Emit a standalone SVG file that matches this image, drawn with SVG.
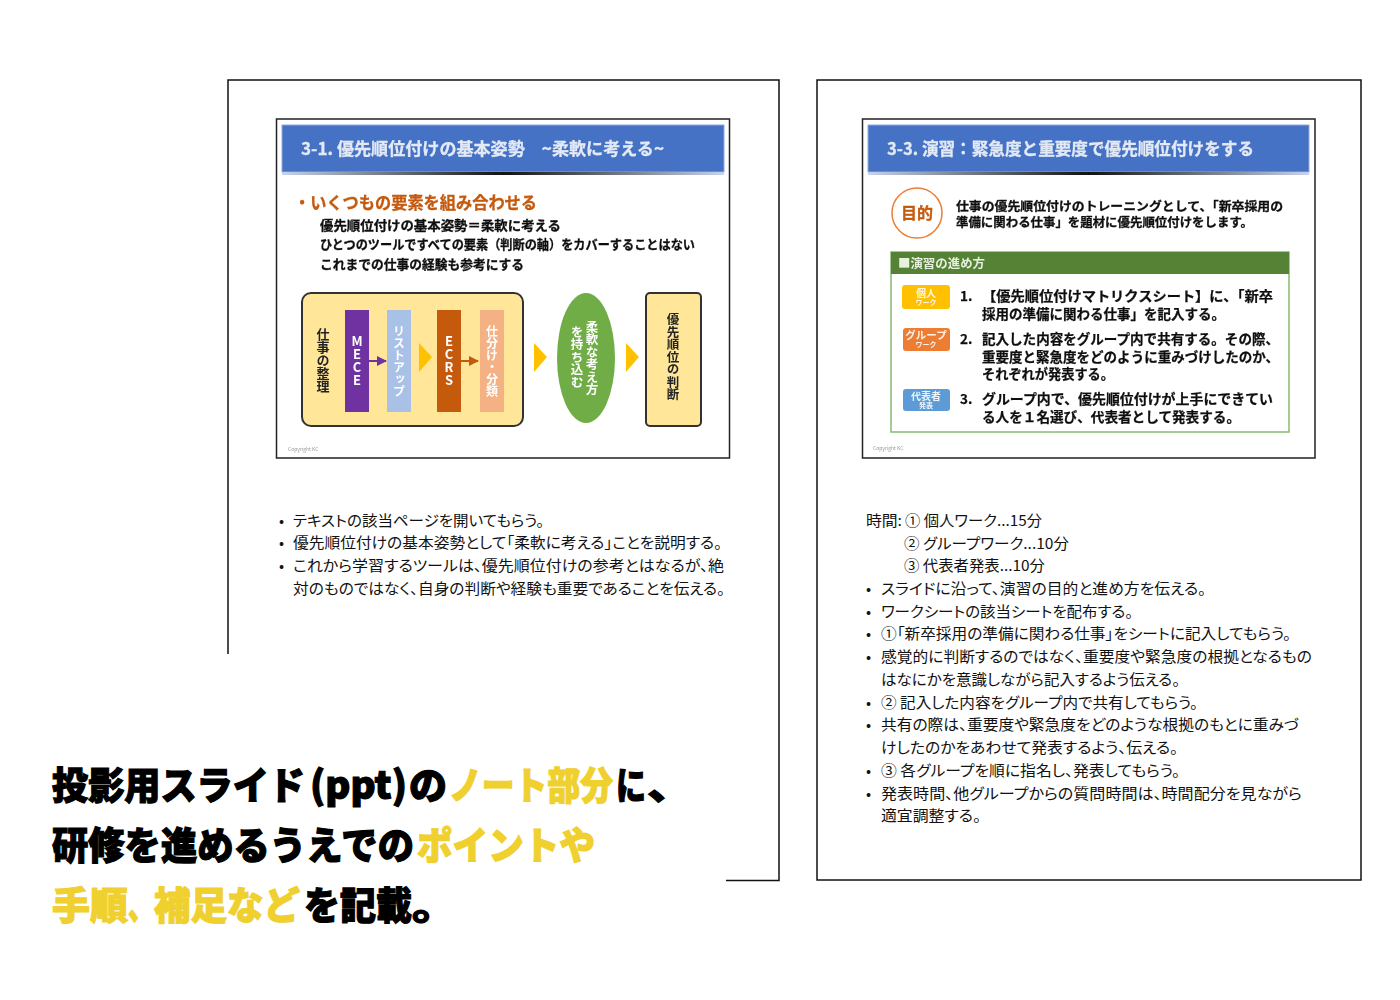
<svg xmlns="http://www.w3.org/2000/svg" width="1400" height="1000" viewBox="0 0 1400 1000">
<style>
text{font-family:"Noto Sans CJK JP","Liberation Sans",sans-serif;dominant-baseline:central}
.page{fill:none;stroke:#111;stroke-width:1.5}
.frame{fill:#fff;stroke:#222;stroke-width:1.5}
.hdr{fill:#4472c4;stroke:#8faadc;stroke-width:1}
.ttl{font-size:17px;font-weight:700;fill:#e3e9f5;stroke:#e3e9f5;stroke-width:.3}
.b{font-size:13px;font-weight:700;fill:#111;stroke:#111;stroke-width:.3}
.c{font-size:13.5px;font-weight:700;fill:#111;stroke:#111;stroke-width:.25}
.n{font-size:15px;fill:#111;font-feature-settings:"palt"}
.tiny{font-size:5px;fill:#999}
.box{fill:#ffe699;stroke:#333;stroke-width:2}
.v{writing-mode:vertical-rl;font-size:13px;font-weight:700;text-anchor:middle}
.u{text-orientation:upright}
.tri{fill:#ffc000}
.h{font-size:38px;font-weight:900;fill:#000;stroke:#000;stroke-width:1.2}
.y{fill:#efd02f;stroke:#efd02f}
.bt{font-weight:700;fill:#fff;text-anchor:middle;opacity:.9}
</style>
<defs>
<linearGradient id="g"><stop offset="0" stop-color="#c5d3ec"/><stop offset=".5" stop-color="#111"/><stop offset="1" stop-color="#c5d3ec"/></linearGradient>
<filter id="s" x="-2%" y="-2%" width="104%" height="104%"><feGaussianBlur stdDeviation="0.45"/></filter>
<marker id="ap" markerWidth="6" markerHeight="6" refX="4.5" refY="2.5" orient="auto"><path d="M0 0L5 2.5L0 5z" fill="#7030a0"/></marker>
<marker id="ao" markerWidth="6" markerHeight="6" refX="4.5" refY="2.5" orient="auto"><path d="M0 0L5 2.5L0 5z" fill="#c55a11"/></marker>
</defs>
<rect width="1400" height="1000" fill="#fff"/>

<path id="page-left" class="page" d="M228 654V80H779V880.5H726"/>
<rect id="page-right" class="page" x="817" y="80" width="544" height="800"/>

<g id="slide-left" filter="url(#s)">
<rect class="frame" x="276.5" y="119" width="453" height="339"/>
<rect class="hdr" x="282" y="125" width="442" height="47"/>
<rect x="282" y="172" width="442" height="3" fill="url(#g)"/>
<text class="ttl" x="301" y="147.5" textLength="363" lengthAdjust="spacingAndGlyphs">3-1. 優先順位付けの基本姿勢　~柔軟に考える~</text>
<text x="294" y="201.5" font-size="17" font-weight="700" fill="#c55a11" stroke="#c55a11" stroke-width=".3" textLength="243" lengthAdjust="spacingAndGlyphs">・いくつもの要素を組み合わせる</text>
<text class="b" x="320" y="224.5" textLength="241" lengthAdjust="spacingAndGlyphs">優先順位付けの基本姿勢＝柔軟に考える</text>
<text class="b" x="320" y="243.5" textLength="375" lengthAdjust="spacingAndGlyphs">ひとつのツールですべての要素（判断の軸）をカバーすることはない</text>
<text class="b" x="320" y="263.5" textLength="204" lengthAdjust="spacingAndGlyphs">これまでの仕事の経験も参考にする</text>
<g id="flow-left">
<rect class="box" x="302" y="293" width="221" height="133" rx="9"/>
<text class="v" x="323" y="360" fill="#222">仕事の整理</text>
<rect x="345" y="310" width="24" height="102" fill="#7030a0"/>
<text class="v u" x="357" y="361" fill="#fff">MECE</text>
<rect x="387" y="310" width="24" height="102" fill="#a9c1e6"/>
<text class="v" x="399" y="361" fill="#fff" style="font-size:12px">リストアップ</text>
<rect x="437" y="310" width="24" height="102" fill="#c55a11"/>
<text class="v u" x="449" y="361" fill="#fff">ECRS</text>
<rect x="480" y="310" width="24" height="102" fill="#f4b183"/>
<text class="v" x="492" y="361" fill="#fff" style="font-size:12px">仕分け・分類</text>
<path d="M369 361H386" stroke="#7030a0" stroke-width="2" marker-end="url(#ap)"/>
<path d="M461 361H478" stroke="#c55a11" stroke-width="2" marker-end="url(#ao)"/>
<path class="tri" d="M419 343L432 357L419 372z"/>
<path class="tri" d="M534 343L547 357L534 372z"/>
<path class="tri" d="M626 343L639 357L626 372z"/>
<ellipse cx="586" cy="358" rx="29" ry="65" fill="#70ad47"/>
<text class="v" x="592" y="358" fill="#fff" style="font-size:12.5px">柔軟な考え方</text>
<text class="v" x="577" y="357" fill="#fff" style="font-size:12.5px">を持ち込む</text>
<rect class="box" x="646" y="293" width="55" height="133" rx="4"/>
<text class="v" x="673" y="357" fill="#222" style="font-size:12.5px">優先順位の判断</text>
</g>
<text class="tiny" x="288" y="448">Copyright  KC</text>
</g>

<g id="slide-right" filter="url(#s)">
<rect class="frame" x="862.5" y="119" width="452.5" height="339"/>
<rect class="hdr" x="868" y="125" width="441" height="47"/>
<rect x="868" y="172" width="441" height="3" fill="url(#g)"/>
<text class="ttl" x="887" y="147.5" textLength="367" lengthAdjust="spacingAndGlyphs">3-3. 演習：緊急度と重要度で優先順位付けをする</text>
<circle cx="917" cy="213" r="25" fill="#fff" stroke="#ed7d31" stroke-width="1.5"/>
<text x="917" y="212" font-size="16" font-weight="700" fill="#c55a11" stroke="#c55a11" stroke-width=".3" text-anchor="middle">目的</text>
<text class="b" style="font-size:12px" x="956" y="205.5" textLength="327" lengthAdjust="spacingAndGlyphs">仕事の優先順位付けのトレーニングとして、「新卒採用の</text>
<text class="b" style="font-size:12px" x="956" y="221.5" textLength="297" lengthAdjust="spacingAndGlyphs">準備に関わる仕事」を題材に優先順位付けをします。</text>
<rect x="891" y="252" width="398" height="180" fill="#fff" stroke="#8bb871" stroke-width="1.5"/>
<rect x="891" y="252" width="398" height="22" fill="#548235"/>
<text x="898" y="262" font-size="12" font-weight="700" fill="#e8f0e0" textLength="87" lengthAdjust="spacingAndGlyphs">■演習の進め方</text>
<rect x="902" y="285" width="48" height="24" rx="3" fill="#ffc000"/>
<text class="bt" style="font-size:10px" x="926" y="292">個人</text><text class="bt" style="font-size:7px" x="926" y="302">ワーク</text>
<rect x="903" y="328" width="47" height="23" rx="3" fill="#ed7d31"/>
<text class="bt" style="font-size:10.5px" x="926" y="334">グループ</text><text class="bt" style="font-size:7px" x="926" y="344">ワーク</text>
<rect x="903" y="389" width="47" height="22" rx="3" fill="#5b9bd5"/>
<text class="bt" style="font-size:10px" x="926" y="395">代表者</text><text class="bt" style="font-size:7px" x="926" y="405">発表</text>
<text class="c" x="960" y="294.5">1.</text>
<text class="c" x="982" y="294.5" textLength="291" lengthAdjust="spacingAndGlyphs">【優先順位付けマトリクスシート】に、「新卒</text>
<text class="c" x="982" y="312.5" textLength="243" lengthAdjust="spacingAndGlyphs">採用の準備に関わる仕事」を記入する。</text>
<text class="c" x="960" y="337.5">2.</text>
<text class="c" x="982" y="337.5" textLength="297" lengthAdjust="spacingAndGlyphs">記入した内容をグループ内で共有する。その際、</text>
<text class="c" x="982" y="355.5" textLength="297" lengthAdjust="spacingAndGlyphs">重要度と緊急度をどのように重みづけしたのか、</text>
<text class="c" x="982" y="372.5" textLength="132" lengthAdjust="spacingAndGlyphs">それぞれが発表する。</text>
<text class="c" x="960" y="397.5">3.</text>
<text class="c" x="982" y="397.5" textLength="291" lengthAdjust="spacingAndGlyphs">グループ内で、優先順位付けが上手にできてい</text>
<text class="c" x="982" y="415.5" textLength="258" lengthAdjust="spacingAndGlyphs">る人を１名選び、代表者として発表する。</text>
<text class="tiny" x="873" y="447">Copyright  KC</text>
</g>

<g id="notes-left" transform="translate(0,-1.5)">
<text class="n" x="279" y="521">•</text><text class="n" x="293" y="521" textLength="251" lengthAdjust="spacingAndGlyphs">テキストの該当ページを開いてもらう。</text>
<text class="n" x="279" y="543">•</text><text class="n" x="293" y="543" textLength="429" lengthAdjust="spacingAndGlyphs">優先順位付けの基本姿勢として「柔軟に考える」ことを説明する。</text>
<text class="n" x="279" y="566">•</text><text class="n" x="293" y="566" textLength="431" lengthAdjust="spacingAndGlyphs">これから学習するツールは、優先順位付けの参考とはなるが、絶</text>
<text class="n" x="293" y="589" textLength="432" lengthAdjust="spacingAndGlyphs">対のものではなく、自身の判断や経験も重要であることを伝える。</text>
</g>

<g id="notes-right" transform="translate(0,-1.5)">
<text class="n" x="866" y="521" textLength="36" lengthAdjust="spacingAndGlyphs">時間:</text>
<text class="n" x="905" y="521" textLength="137" lengthAdjust="spacingAndGlyphs">① 個人ワーク...15分</text>
<text class="n" x="904" y="544" textLength="165" lengthAdjust="spacingAndGlyphs">② グループワーク...10分</text>
<text class="n" x="904" y="566" textLength="141" lengthAdjust="spacingAndGlyphs">③ 代表者発表...10分</text>
<text class="n" x="866" y="589">•</text><text class="n" x="881" y="589" textLength="325" lengthAdjust="spacingAndGlyphs">スライドに沿って、演習の目的と進め方を伝える。</text>
<text class="n" x="866" y="612">•</text><text class="n" x="881" y="612" textLength="252" lengthAdjust="spacingAndGlyphs">ワークシートの該当シートを配布する。</text>
<text class="n" x="866" y="634">•</text><text class="n" x="881" y="634" textLength="410" lengthAdjust="spacingAndGlyphs">①「新卒採用の準備に関わる仕事」をシートに記入してもらう。</text>
<text class="n" x="866" y="657">•</text><text class="n" x="881" y="657" textLength="431" lengthAdjust="spacingAndGlyphs">感覚的に判断するのではなく、重要度や緊急度の根拠となるもの</text>
<text class="n" x="881" y="680" textLength="299" lengthAdjust="spacingAndGlyphs">はなにかを意識しながら記入するよう伝える。</text>
<text class="n" x="866" y="703">•</text><text class="n" x="881" y="703" textLength="317" lengthAdjust="spacingAndGlyphs">② 記入した内容をグループ内で共有してもらう。</text>
<text class="n" x="866" y="725">•</text><text class="n" x="881" y="725" textLength="418" lengthAdjust="spacingAndGlyphs">共有の際は、重要度や緊急度をどのような根拠のもとに重みづ</text>
<text class="n" x="881" y="748" textLength="297" lengthAdjust="spacingAndGlyphs">けしたのかをあわせて発表するよう、伝える。</text>
<text class="n" x="866" y="771">•</text><text class="n" x="881" y="771" textLength="299" lengthAdjust="spacingAndGlyphs">③ 各グループを順に指名し、発表してもらう。</text>
<text class="n" x="866" y="794">•</text><text class="n" x="881" y="794" textLength="421" lengthAdjust="spacingAndGlyphs">発表時間、他グループからの質問時間は、時間配分を見ながら</text>
<text class="n" x="881" y="816" textLength="100" lengthAdjust="spacingAndGlyphs">適宜調整する。</text>
</g>

<g id="caption">
<text class="h" x="52" y="782" textLength="253" lengthAdjust="spacingAndGlyphs">投影用スライド</text>
<text class="h" x="310" y="782" textLength="97" lengthAdjust="spacingAndGlyphs">(ppt)</text>
<text class="h" x="409" y="782" textLength="38" lengthAdjust="spacingAndGlyphs">の</text>
<text class="h y" x="449" y="782" textLength="164" lengthAdjust="spacingAndGlyphs">ノート部分</text>
<text class="h" x="616" y="782" textLength="30" lengthAdjust="spacingAndGlyphs">に</text>
<text class="h" x="647" y="782" textLength="46" lengthAdjust="spacingAndGlyphs">、</text>
<text class="h" x="52" y="842" textLength="362" lengthAdjust="spacingAndGlyphs">研修を進めるうえでの</text>
<text class="h y" x="417" y="842" textLength="178" lengthAdjust="spacingAndGlyphs">ポイントや</text>
<text class="h y" x="52" y="902" textLength="76" lengthAdjust="spacingAndGlyphs">手順</text>
<text class="h y" x="128" y="902" textLength="26" lengthAdjust="spacingAndGlyphs">、</text>
<text class="h y" x="154" y="902" textLength="146" lengthAdjust="spacingAndGlyphs">補足など</text>
<text class="h" x="304" y="902" textLength="108" lengthAdjust="spacingAndGlyphs">を記載</text>
<text class="h" x="412" y="902" textLength="46" lengthAdjust="spacingAndGlyphs">。</text>
</g>
</svg>
